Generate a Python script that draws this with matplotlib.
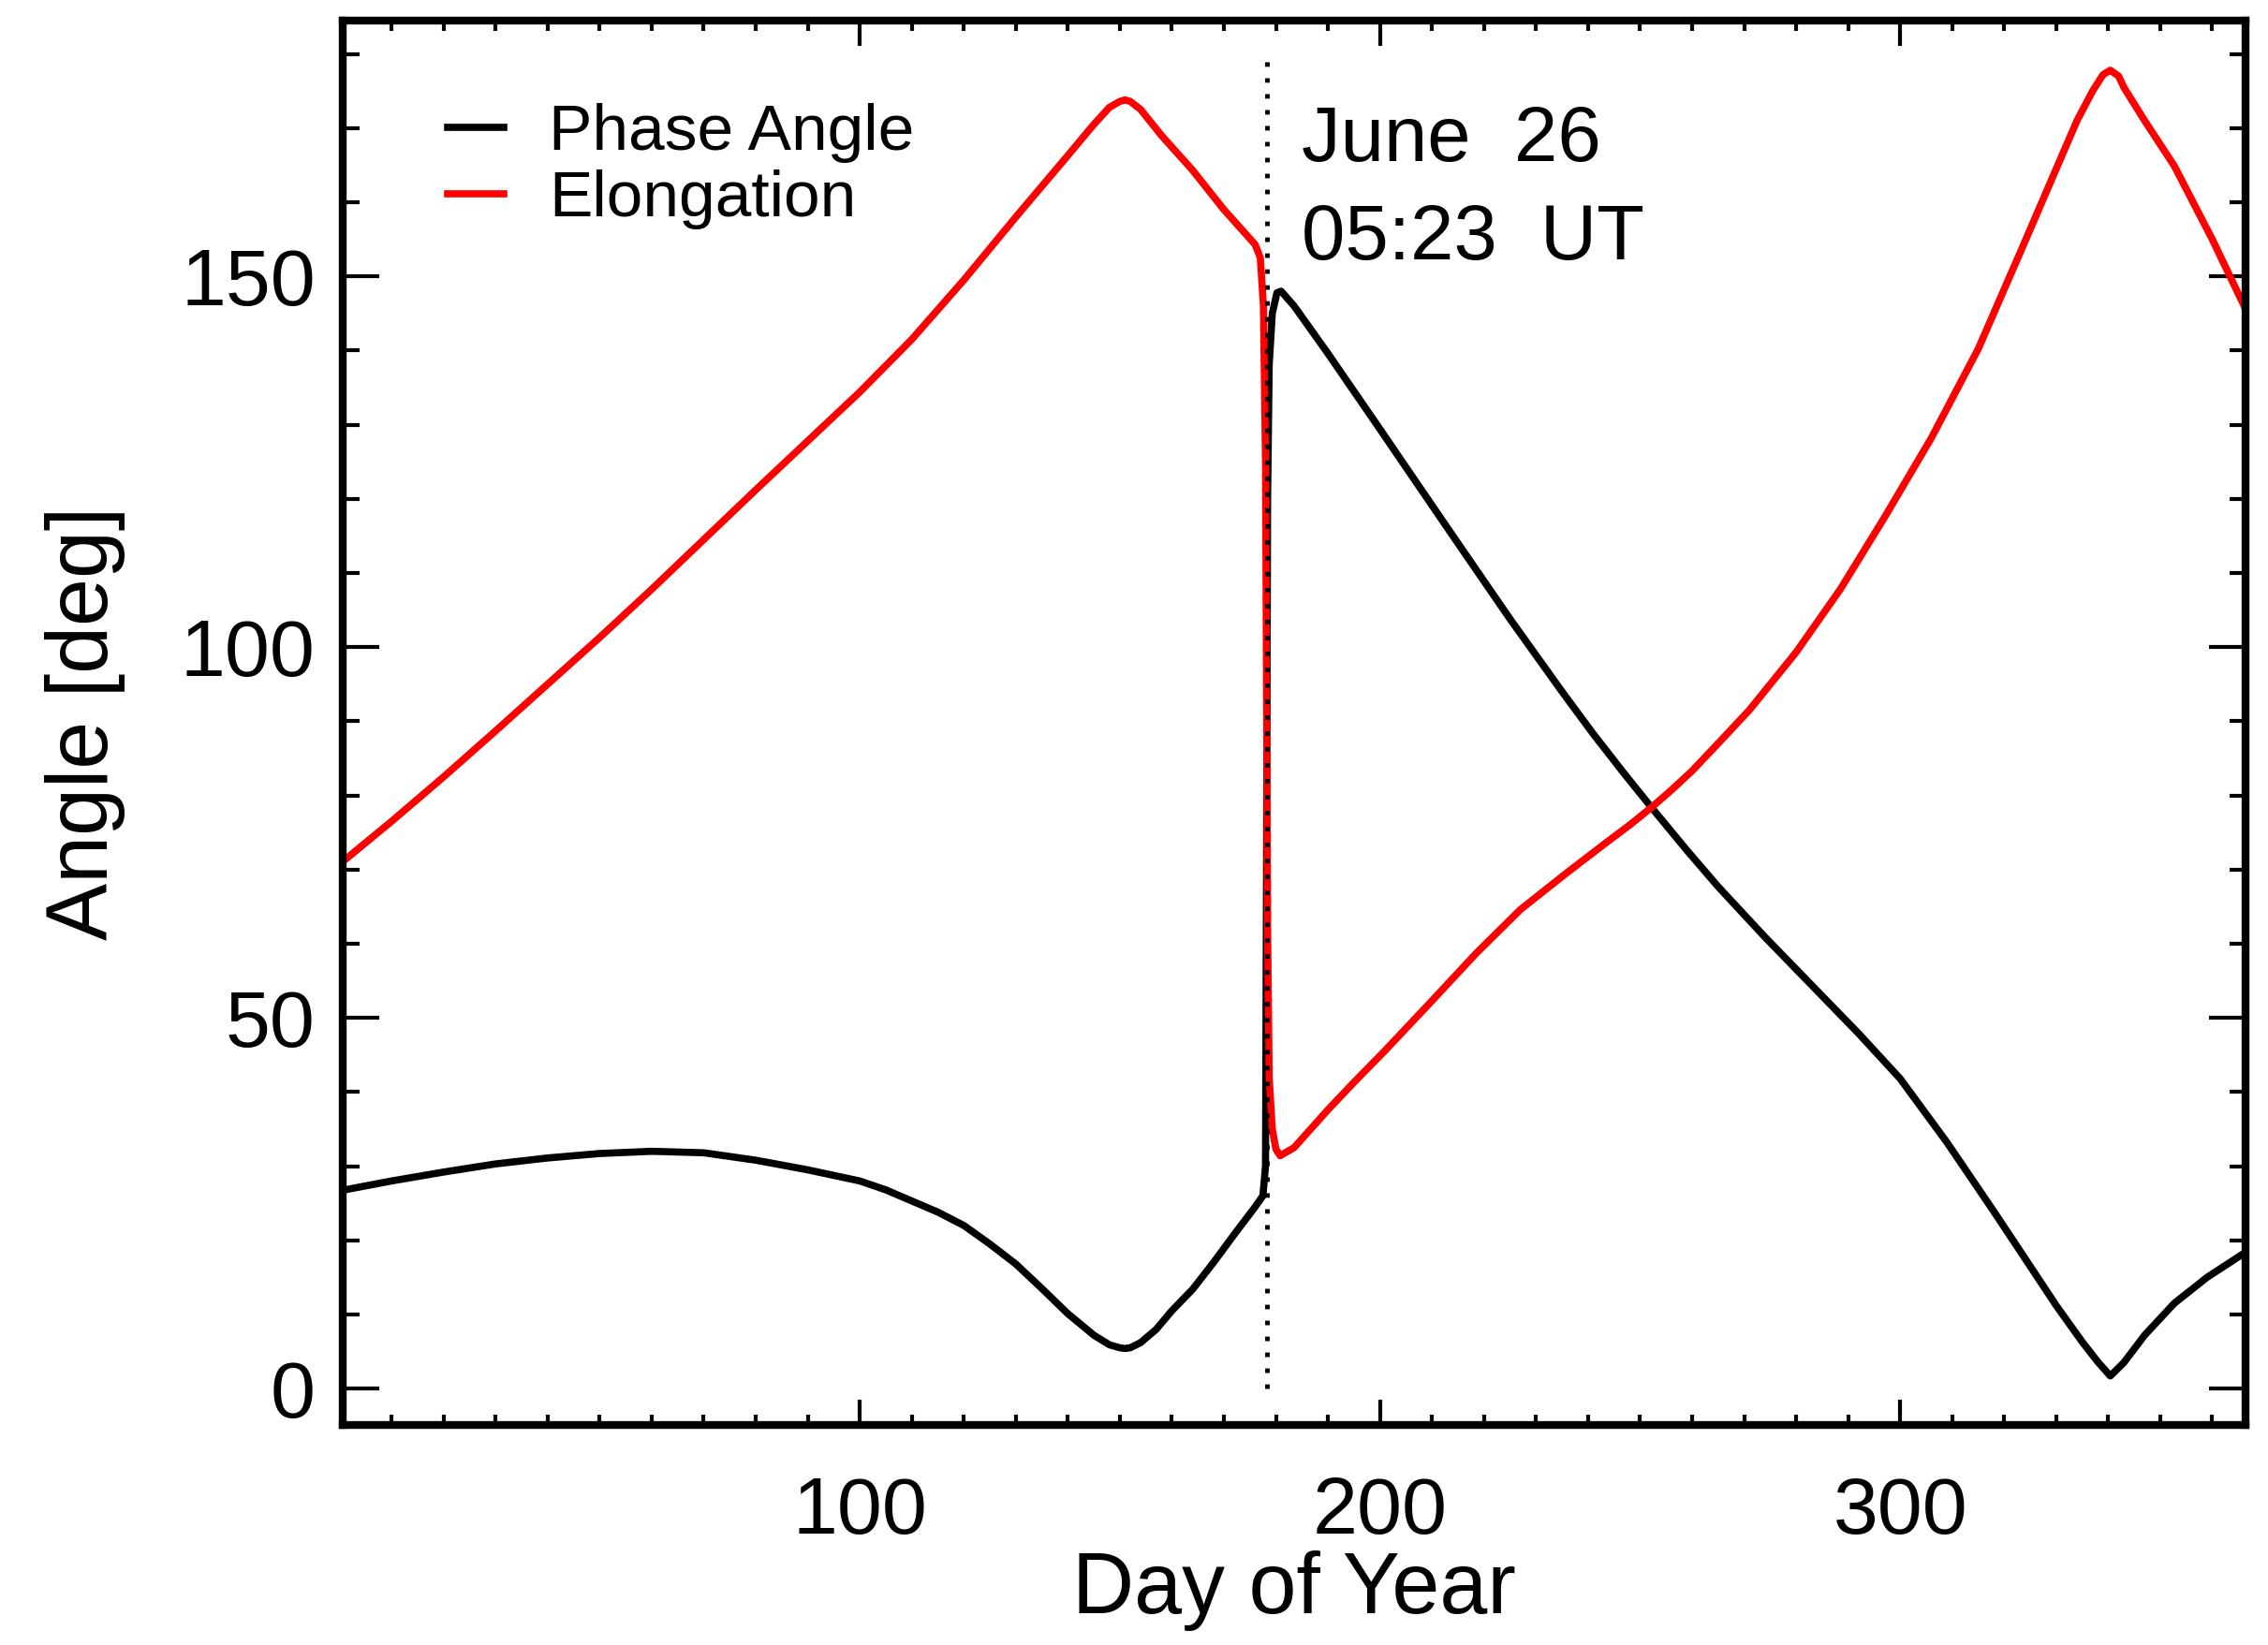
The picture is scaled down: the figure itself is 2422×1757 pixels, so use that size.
import numpy as np
import matplotlib
matplotlib.use("Agg")
import matplotlib.pyplot as plt
from matplotlib.ticker import MultipleLocator

plt.rcParams['font.family'] = ['Liberation Sans', 'DejaVu Sans']

# values
phase_day = [1, 10, 20, 30, 40, 50, 60, 70, 80, 90, 100, 105, 110, 115, 120,
             125, 130, 135, 140, 145, 148, 150, 151, 152, 154, 157, 160, 164,
             168, 172, 176, 177.5, 178.0, 178.2, 178.4, 178.7, 179.3, 180.2,
             181, 183.5, 190, 195, 200, 207, 215, 225, 235, 241, 247, 252.4,
             259, 265, 274, 283, 292, 300, 309, 318, 325, 330, 335, 338, 340.4,
             343, 347, 352.7, 359, 366]
phase_val = [26.8, 28.0, 29.2, 30.3, 31.1, 31.7, 32.0, 31.8, 30.8, 29.5, 28.0,
             26.8, 25.3, 23.8, 22.0, 19.5, 16.8, 13.5, 10.1, 7.2, 5.9, 5.5, 5.4,
             5.5, 6.2, 8.0, 10.5, 13.4, 17.0, 20.8, 24.5, 26.0, 30.0, 70.0,
             120.0, 138.0, 145.0, 147.8, 148.0, 146.0, 139.6, 134.5, 129.4,
             122.2, 114.0, 103.8, 94.0, 88.3, 82.9, 78.2, 72.6, 67.7, 60.9,
             54.4, 47.9, 41.8, 33.2, 23.9, 16.5, 11.2, 6.3, 3.6, 1.7, 3.5, 7.2,
             11.5, 15.0, 18.2]

elong_day = [1, 10, 20, 30, 40, 50, 60, 70, 80, 90, 100, 110, 120, 130, 140,
             145, 148, 150, 151, 152, 154, 158, 164, 170, 176, 177, 177.6,
             178.0, 178.2, 178.4, 178.7, 179.3, 180.0, 180.8, 183.5, 190, 195,
             201, 210, 218.5, 227, 236, 244, 248, 252.4, 256, 260, 265, 271,
             280, 288.5, 297, 306, 315, 323.5, 330, 334, 337, 339, 340.4, 342,
             343, 347, 352.7, 360, 366]
elong_val = [71.3, 76.5, 82.5, 88.7, 95.0, 101.3, 107.8, 114.5, 121.2, 127.8,
             134.4, 141.5, 149.5, 158.0, 166.3, 170.5, 172.8, 173.6, 173.8,
             173.6, 172.5, 169.0, 164.3, 159.0, 154.3, 152.5, 146.0, 125.0,
             95.0, 62.0, 42.0, 35.0, 32.3, 31.4, 32.5, 37.6, 41.3, 45.6, 52.3,
             58.7, 64.6, 69.6, 73.9, 76.0, 78.5, 80.7, 83.3, 87.0, 91.5, 99.3,
             107.8, 117.5, 128.2, 140.2, 153.9, 164.5, 171.0, 175.0, 177.2,
             177.8, 177.0, 175.5, 171.0, 164.9, 155.0, 146.2]

event_day = 178.22
event_text = "June  26\n05:23  UT"

fig = plt.figure(figsize=(24.22, 17.57), dpi=100)
ax = fig.add_axes([0.1511, 0.1338, 0.8390, 0.8537])

ax.plot(phase_day, phase_val, color='black', lw=5.5, label='Phase Angle')
ax.plot(elong_day, elong_val, color='red', lw=5.5, label='Elongation')
ax.plot([event_day, event_day], [0, 180], color='black', lw=3.5,
        linestyle=(0, (1, 2.5)))

ax.text(185, 173.2, event_text, fontsize=60, va='top', ha='left',
        linespacing=1.43)

ax.set_xlim(0.6, 366.4)
ax.set_ylim(-4.9, 184.5)
ax.xaxis.set_major_locator(MultipleLocator(100))
ax.xaxis.set_minor_locator(MultipleLocator(10))
ax.yaxis.set_major_locator(MultipleLocator(50))
ax.yaxis.set_minor_locator(MultipleLocator(10))

ax.tick_params(axis='both', which='both', direction='in', top=True, right=True,
               width=3)
ax.tick_params(axis='x', which='major', length=19.5, pad=39, labelsize=62)
ax.tick_params(axis='x', which='minor', length=8)
ax.tick_params(axis='y', which='major', length=28, pad=21, labelsize=62)
ax.tick_params(axis='y', which='minor', length=12.6)
for sp in ax.spines.values():
    sp.set_linewidth(6)

ax.set_xlabel("Day of Year", fontsize=66, va='top')
ax.xaxis.set_label_coords(0.5, -0.0893)
ax.set_ylabel("Angle [deg]", fontsize=66)
ax.yaxis.set_label_coords(-0.114, 0.5)

ax.legend(loc='upper left', bbox_to_anchor=(0.0549, 0.941), frameon=False,
          fontsize=50, handlelength=0.87, handletextpad=0.69,
          labelspacing=0.1, borderpad=0, borderaxespad=0)

fig.savefig("out.png", dpi=100)
